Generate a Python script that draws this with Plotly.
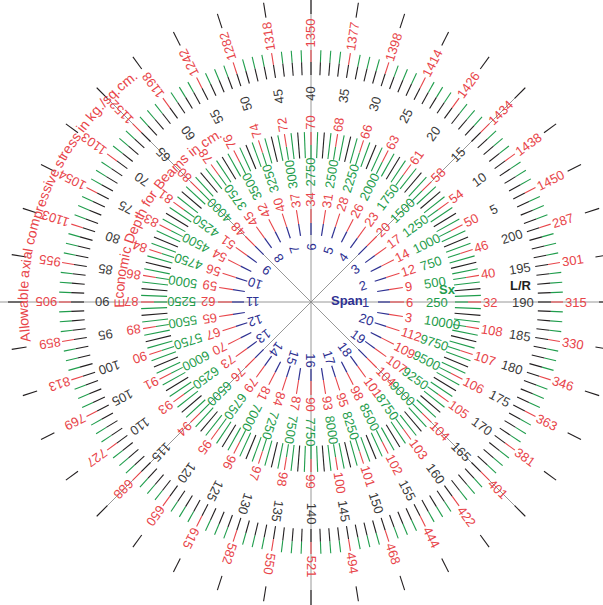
import math
import plotly.graph_objects as go

# ---------------- data ----------------
# innermost scale (blue) : span, one label every second division
span_labels = ["1", "2", "3", "4", "5", "6", "7", "8", "9", "10",
               "11", "12", "13", "14", "15", "16", "17", "18", "19", "20"]
# red numbers beside the span ticks (one per division)
span_depth = [6, 9, 12, 14, 17, 20, 23, 26, 28, 31, 34, 37, 40, 42, 45, 48, 51, 54, 56, 59,
              62, 65, 67, 70, 73, 76, 79, 81, 84, 87, 90, 93, 95, 98, 101, 104, 107, 109, 112, 3]
# green section-modulus scale Sx
sx_values = [250, 500, 750, 1000, 1250, 1500, 1750, 2000, 2250, 2500,
             2750, 3000, 3250, 3500, 3750, 4000, 4250, 4500, 4750, 5000,
             5250, 5500, 5750, 6000, 6250, 6500, 6750, 7000, 7250, 7500,
             7750, 8000, 8250, 8500, 8750, 9000, 9250, 9500, 9750, 10000]
# red economic depth scale (cm)
depth_values = [32, 40, 46, 50, 54, 58, 61, 63, 66, 68, 70, 72, 74, 76, 78, 80, 81, 83, 84, 86,
                87, 89, 90, 91, 93, 94, 95, 96, 97, 98, 99, 100, 101, 102, 103, 104, 105, 106, 107, 108]
# black slenderness ratio scale L/R
lr_values = [190, 195, 200, 5, 10, 15, 20, 25, 30, 35, 40, 45, 50, 55, 60, 65, 70, 75, 80, 85,
             90, 95, 100, 105, 110, 115, 120, 125, 130, 135, 140, 145, 150, 155, 160, 165, 170, 175, 180, 185]
# red allowable axial compressive stress (kg/sq.cm)
stress_values = [315, 301, 287, 1450, 1438, 1434, 1426, 1414, 1398, 1377,
                 1350, 1318, 1282, 1242, 1198, 1152, 1103, 1054, 1103, 955,
                 905, 859, 813, 769, 727, 688, 650, 615, 582, 550,
                 521, 494, 468, 444, 422, 401, 381, 363, 346, 330]

title_stress = "Allowable axial compressive stress in kg./sq.cm."
title_depth = "Economic Depth for Beams in cm."

# ---------------- styling / geometry ----------------
N_DIV = len(lr_values)
DIV = 360.0 / N_DIV          # degrees per division
MINOR = 4                    # minor intervals per division

RED = "#e8454a"
GREEN = "#1f9d4c"
BLUE = "#2e3192"
BLACK = "#231f20"
DARK = "#3a3a3a"
GRAY = "#8c8c8c"
FONT = "Liberation Sans, Arial, sans-serif"
NUM_SIZE = 13


def pol(r, deg):
    t = math.radians(deg)
    return r * math.cos(t), r * math.sin(t)


class Seg:
    def __init__(self):
        self.x, self.y = [], []

    def add(self, r1, r2, deg):
        x1, y1 = pol(r1, deg)
        x2, y2 = pol(r2, deg)
        self.x += [x1, x2, None]
        self.y += [y1, y2, None]


gray = Seg()
blue_s, red_s, green_s, black_s = Seg(), Seg(), Seg(), Seg()

# reference cross and diagonals
for deg in (0, 90, 45, 135):
    r = 303 if deg in (45, 135) else 320
    gray.add(-r, r, deg)

for i in range(N_DIV):
    a = i * DIV
    # span ticks
    blue_s.add(67, 79, a)
    red_s.add(79, 93, a)
    # outer dashes
    black_s.add(288, 303, a)
    for k in range(MINOR):
        b = a + k * DIV / MINOR
        # depth / Sx ring
        if k == 0:
            green_s.add(144, 157, b)
            red_s.add(157, 170, b)
        elif k == 2:
            black_s.add(144, 170, b)
        else:
            green_s.add(144, 170, b)
        # L/R / stress ring
        black_s.add(227, 240, b)
        if k == 0:
            red_s.add(240, 252, b)
        else:
            green_s.add(240, 252, b)

fig = go.Figure()
for seg, col, w in ((gray, GRAY, 0.9), (blue_s, BLUE, 1.2), (green_s, GREEN, 1.1),
                    (black_s, BLACK, 1.1), (red_s, RED, 1.1)):
    fig.add_trace(go.Scatter(x=seg.x, y=seg.y, mode="lines", hoverinfo="skip",
                             line=dict(color=col, width=w)))

annotations = []


def radial_label(text, r_start, deg, color, size=NUM_SIZE):
    w = len(text) * 0.556 * size
    x, y = pol(r_start + w / 2, deg)
    annotations.append(dict(x=x, y=y, xref="x", yref="y", text=text, showarrow=False,
                            textangle=-deg, xanchor="center", yanchor="middle",
                            font=dict(family=FONT, size=size, color=color)))


for j, t in enumerate(span_labels):
    radial_label(t, 51, j * 2 * DIV, BLUE)
for i in range(N_DIV):
    a = i * DIV
    radial_label(str(span_depth[i]), 95, a, RED)
    radial_label(str(sx_values[i]), 115, a, GREEN)
    radial_label(str(depth_values[i]), 172, a, RED)
    radial_label(str(lr_values[i]), 201, a, DARK)
    radial_label(str(stress_values[i]), 254, a, RED)

# scale names
for txt, x, y, col in (("<b>Span</b>", 35.5, 2, BLUE), ("<b>Sx</b>", 136, 13, GREEN),
                       ("<b>L/R</b>", 210, 17, BLACK)):
    annotations.append(dict(x=x, y=y, xref="x", yref="y", text=txt, showarrow=False,
                            xanchor="center", yanchor="middle",
                            font=dict(family=FONT, size=NUM_SIZE, color=col)))

# curved titles
CW = {"A": .667, "l": .222, "o": .556, "w": .722, "a": .556, "b": .556, "e": .556, " ": .278,
      "x": .5, "i": .222, "c": .5, "m": .833, "p": .556, "r": .333, "s": .5, "v": .5,
      "t": .278, "n": .556, "k": .5, "g": .556, ".": .278, "/": .278, "q": .556,
      "E": .667, "D": .722, "h": .556, "f": .278, "B": .667}


def arc_text(text, r, deg0, deg1, color, size):
    centers, s = [], 0.0
    for ch in text:
        w = CW.get(ch, .556)
        centers.append(s + w / 2)
        s += w
    c0, c1 = centers[0], centers[-1]
    for ch, c in zip(text, centers):
        if ch == " ":
            continue
        deg = deg0 + (deg1 - deg0) * (c - c0) / (c1 - c0)
        x, y = pol(r, deg)
        annotations.append(dict(x=x, y=y, xref="x", yref="y", text=ch, showarrow=False,
                                textangle=90 - deg, xanchor="center", yanchor="middle",
                                font=dict(family=FONT, size=size, color=color)))


arc_text(title_stress, 288, 187.0, 128.0, RED, 14)
arc_text(title_depth, 192, 180.5, 118.5, RED, 14)

fig.update_layout(
    width=603, height=605, margin=dict(l=0, r=0, t=0, b=0),
    paper_bgcolor="white", plot_bgcolor="white", showlegend=False,
    xaxis=dict(range=[-311, 292], visible=False, fixedrange=True),
    yaxis=dict(range=[-303, 302], visible=False, fixedrange=True),
    annotations=annotations,
)

fig.write_html("out.html", config={"displayModeBar": False})

# remove the default page margin so the figure sits at the window origin
with open("out.html", encoding="utf-8") as fh:
    html = fh.read()
html = html.replace("<head>", "<head><style>html,body{margin:0;padding:0;overflow:hidden;}</style>", 1)
with open("out.html", "w", encoding="utf-8") as fh:
    fh.write(html)
